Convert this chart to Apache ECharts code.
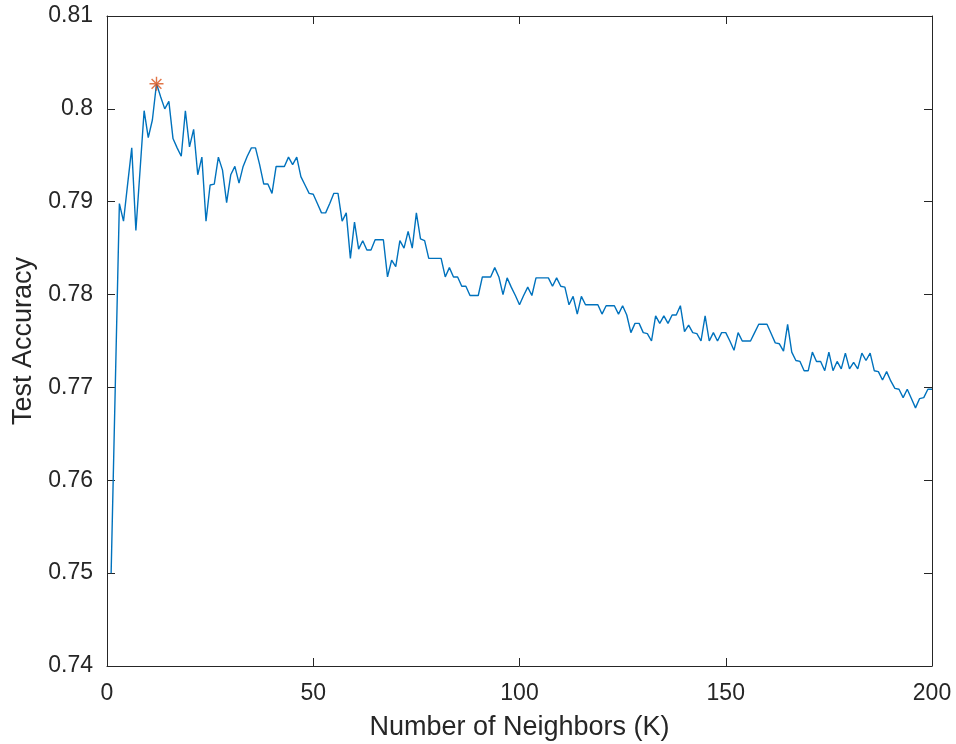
<!DOCTYPE html>
<html>
<head>
<meta charset="utf-8">
<script src="https://cdn.jsdelivr.net/npm/echarts@6/dist/echarts.min.js"></script>
<style>
html,body{margin:0;padding:0;background:#fff;}
#chart{width:956px;height:744px;}
</style>
</head>
<body>
<div id="chart"></div>
<script>
// Number of neighbours K = 1..200 and the test accuracy for each
var accuracy = [
0.7500,0.7700,0.7898,0.7879,0.7919,0.7958,0.7869,0.7933,0.7998,0.7969,
0.7988,0.8027,0.8013,0.8000,0.8008,0.7968,0.7958,0.7949,0.7998,0.7959,
0.7978,0.7929,0.7948,0.7879,0.7918,0.7919,0.7948,0.7934,0.7899,0.7929,
0.7938,0.7920,0.7938,0.7949,0.7958,0.7958,0.7940,0.7919,0.7919,0.7909,
0.7938,0.7938,0.7938,0.7948,0.7940,0.7948,0.7927,0.7918,0.7909,0.7908,
0.7898,0.7888,0.7888,0.7898,0.7909,0.7909,0.7879,0.7888,0.7839,0.7878,
0.7849,0.7858,0.7848,0.7848,0.7859,0.7859,0.7859,0.7819,0.7837,0.7830,
0.7858,0.7850,0.7868,0.7850,0.7888,0.7860,0.7858,0.7839,0.7839,0.7839,
0.7839,0.7819,0.7829,0.7819,0.7819,0.7809,0.7809,0.7799,0.7799,0.7799,
0.7819,0.7819,0.7819,0.7829,0.7819,0.7800,0.7818,0.7808,0.7799,0.7789,
0.7799,0.7808,0.7799,0.7818,0.7818,0.7818,0.7818,0.7809,0.7818,0.7809,
0.7808,0.7789,0.7798,0.7779,0.7798,0.7789,0.7789,0.7789,0.7789,0.7779,
0.7788,0.7788,0.7788,0.7779,0.7788,0.7778,0.7759,0.7769,0.7769,0.7759,
0.7758,0.7750,0.7777,0.7769,0.7777,0.7769,0.7778,0.7778,0.7788,0.7760,
0.7767,0.7759,0.7758,0.7750,0.7777,0.7750,0.7759,0.7750,0.7759,0.7759,
0.7750,0.7740,0.7759,0.7750,0.7750,0.7750,0.7759,0.7768,0.7768,0.7768,
0.7758,0.7748,0.7747,0.7739,0.7768,0.7738,0.7729,0.7728,0.7718,0.7718,
0.7738,0.7728,0.7728,0.7718,0.7738,0.7718,0.7728,0.7720,0.7737,0.7720,
0.7727,0.7720,0.7737,0.7729,0.7737,0.7718,0.7717,0.7708,0.7717,0.7707,
0.7699,0.7698,0.7689,0.7698,0.7688,0.7678,0.7688,0.7689,0.7698,0.7698
];
var firstK = 1;
var xTicks = [0, 50, 100, 150, 200];
var yTicks = [0.74, 0.75, 0.76, 0.77, 0.78, 0.79, 0.80, 0.81];
var xTitle = 'Number of Neighbors (K)';
var yTitle = 'Test Accuracy';

var lineData = accuracy.map(function (v, i) { return [firstK + i, v]; });
var bestIdx = 0;
accuracy.forEach(function (v, i) { if (v > accuracy[bestIdx]) bestIdx = i; });
var bestPoint = [[firstK + bestIdx, accuracy[bestIdx]]];

var axisColor = '#262626';
var font = "'Liberation Sans', Arial, Helvetica, sans-serif";

var chart = echarts.init(document.getElementById('chart'), null, {renderer: 'canvas'});
var common = {
  axisLine: {show: true, onZero: false, lineStyle: {color: axisColor, width: 1}},
  axisTick: {show: true, inside: true, length: 8, lineStyle: {color: axisColor, width: 1}},
  splitLine: {show: false}
};
chart.setOption({
  backgroundColor: '#ffffff',
  animation: false,
  grid: {left: 107, right: 24, top: 16, bottom: 78, containLabel: false, outerBoundsMode: 'none'},
  xAxis: [
    Object.assign({}, common, {
      type: 'value', position: 'bottom',
      min: xTicks[0], max: xTicks[xTicks.length - 1], interval: xTicks[1] - xTicks[0],
      name: xTitle, nameLocation: 'middle', nameGap: 48,
      nameTextStyle: {color: axisColor, fontSize: 27, fontFamily: font},
      axisLabel: {color: axisColor, fontSize: 23, fontFamily: font, margin: 16}
    }),
    Object.assign({}, common, {
      type: 'value', position: 'top',
      min: xTicks[0], max: xTicks[xTicks.length - 1], interval: xTicks[1] - xTicks[0],
      axisLabel: {show: false}
    })
  ],
  yAxis: [
    Object.assign({}, common, {
      type: 'value', position: 'left',
      min: yTicks[0], max: yTicks[yTicks.length - 1], interval: 0.01,
      name: yTitle, nameLocation: 'middle', nameGap: 68, nameRotate: 90,
      nameTextStyle: {color: axisColor, fontSize: 27, fontFamily: font},
      axisLabel: {color: axisColor, fontSize: 23, fontFamily: font, margin: 14,
        formatter: function (v) { return String(+v.toFixed(2)); }}
    }),
    Object.assign({}, common, {
      type: 'value', position: 'right',
      min: yTicks[0], max: yTicks[yTicks.length - 1], interval: 0.01,
      axisLabel: {show: false}
    })
  ],
  series: [
    {
      type: 'line', data: lineData, xAxisIndex: 0, yAxisIndex: 0,
      showSymbol: false, symbol: 'none',
      lineStyle: {color: '#0072BD', width: 1.4},
      z: 2
    },
    {
      type: 'scatter', data: bestPoint, xAxisIndex: 0, yAxisIndex: 0,
      symbol: 'path://M0,-10L0,10M-10,0L10,0M-7,-7L7,7M-7,7L7,-7',
      symbolSize: 14,
      itemStyle: {color: 'none', borderColor: '#D95319', borderWidth: 1.4},
      z: 3
    }
  ]
});
</script>
</body>
</html>
